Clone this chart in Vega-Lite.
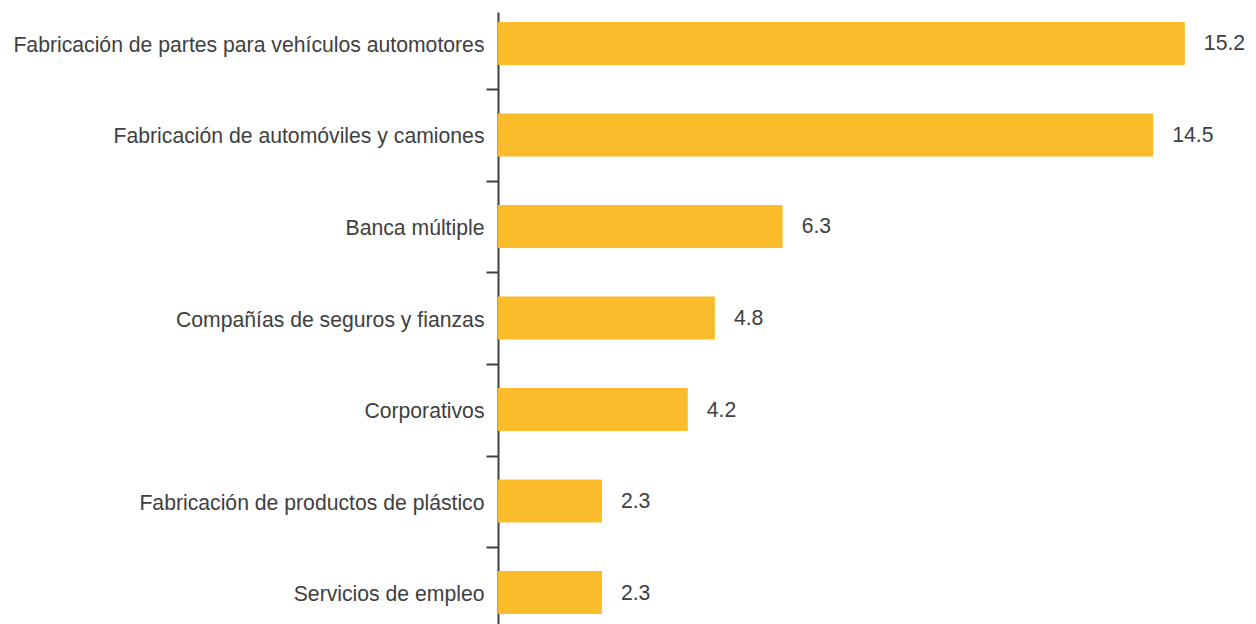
{
  "$schema": "https://vega.github.io/schema/vega-lite/v6.json",
  "autosize": {"type": "none"},
  "width": 723,
  "height": 612,
  "padding": {"left": 498, "top": 12, "right": 35, "bottom": 0},
  "background": "white",
  "config": {"view": {"stroke": null}, "font": "Liberation Sans"},
  "data": {
    "values": [
      {"sector": "Fabricación de partes para vehículos automotores", "value": 15.2},
      {"sector": "Fabricación de automóviles y camiones", "value": 14.5},
      {"sector": "Banca múltiple", "value": 6.3},
      {"sector": "Compañías de seguros y fianzas", "value": 4.8},
      {"sector": "Corporativos", "value": 4.2},
      {"sector": "Fabricación de productos de plástico", "value": 2.3},
      {"sector": "Servicios de empleo", "value": 2.3}
    ]
  },
  "encoding": {
    "y": {
      "field": "sector",
      "type": "nominal",
      "sort": null,
      "scale": {"paddingInner": 0.53, "paddingOuter": 0.109},
      "axis": {
        "title": null,
        "domainColor": "#404040",
        "domainWidth": 2,
        "tickColor": "#404040",
        "tickWidth": 2,
        "tickSize": 12,
        "bandPosition": 0,
        "tickOffset": -24,
        "labelOffset": 26,
        "labelPadding": 2,
        "labelFont": "Liberation Sans",
        "labelFontSize": 21.2,
        "labelColor": "#404040",
        "labelLimit": 0
      }
    },
    "x": {
      "field": "value",
      "type": "quantitative",
      "scale": {"domain": [0, 16], "nice": false},
      "axis": null
    }
  },
  "layer": [
    {"mark": {"type": "bar", "color": "#FBBC2C"}},
    {
      "mark": {"type": "text", "align": "left", "baseline": "middle", "dx": 19, "dy": 1, "font": "Liberation Sans", "fontSize": 21.2, "color": "#404040"},
      "encoding": {"text": {"field": "value", "type": "quantitative", "format": ".1f"}}
    }
  ]
}
